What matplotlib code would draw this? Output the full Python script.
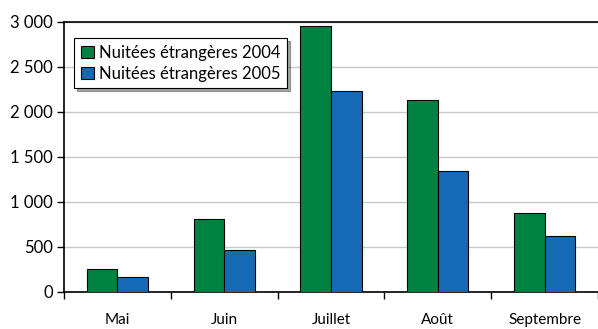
import numpy as np
import matplotlib.pyplot as plt
from matplotlib.ticker import FuncFormatter

months = ["Mai", "Juin", "Juillet", "Août", "Septembre"]
nuitees_2004 = [250, 812, 2960, 2130, 870]
nuitees_2005 = [165, 463, 2238, 1338, 615]

green = "#008241"
blue = "#1569B5"

plt.rcParams['font.family'] = ['Lato', 'DejaVu Sans']

fig = plt.figure(figsize=(5.98, 3.29), dpi=100)
ax = fig.add_axes([64 / 598, 1 - 291.7 / 329, 534 / 598, 269.7 / 329])

x = np.arange(len(months))
w = 0.287
ax.bar(x - w / 2, nuitees_2004, w, color=green, edgecolor="black", linewidth=0.8,
       label="Nuitées étrangères 2004", zorder=3)
ax.bar(x + w / 2, nuitees_2005, w, color=blue, edgecolor="black", linewidth=0.8,
       label="Nuitées étrangères 2005", zorder=3)

ax.set_xlim(-0.5, len(months) - 0.5)
ax.set_ylim(0, 3000)
ax.set_yticks(np.arange(0, 3001, 500))
ax.yaxis.set_major_formatter(FuncFormatter(lambda v, p: f"{int(v):,}".replace(",", " ")))
ax.grid(axis="y", color="#c8c8c8", linewidth=1, zorder=0)

ax.set_xticks(np.arange(-0.5, len(months), 1))
ax.set_xticklabels([])
ax.set_xticks(x, minor=True)
ax.set_xticklabels(months, minor=True)
ax.tick_params(axis="x", which="minor", length=0, pad=15, labelsize=11)
ax.tick_params(axis="x", which="major", length=5, direction="out", width=1)
ax.tick_params(axis="y", length=5, width=1, labelsize=12, pad=3)

ax.spines["right"].set_visible(False)
for s in ["left", "bottom", "top"]:
    ax.spines[s].set_linewidth(1.2)
    ax.spines[s].set_color("black")

leg = ax.legend(loc="upper left", bbox_to_anchor=(10 / 534, 1 - 16 / 269.7),
                frameon=True, fancybox=False, shadow=True, fontsize=12,
                handlelength=0.8, handleheight=0.8, handletextpad=0.3,
                borderpad=0.4, labelspacing=0.3, borderaxespad=0)
leg.get_frame().set_edgecolor("black")
leg.get_frame().set_linewidth(0.8)

fig.savefig("out.png", dpi=100)
